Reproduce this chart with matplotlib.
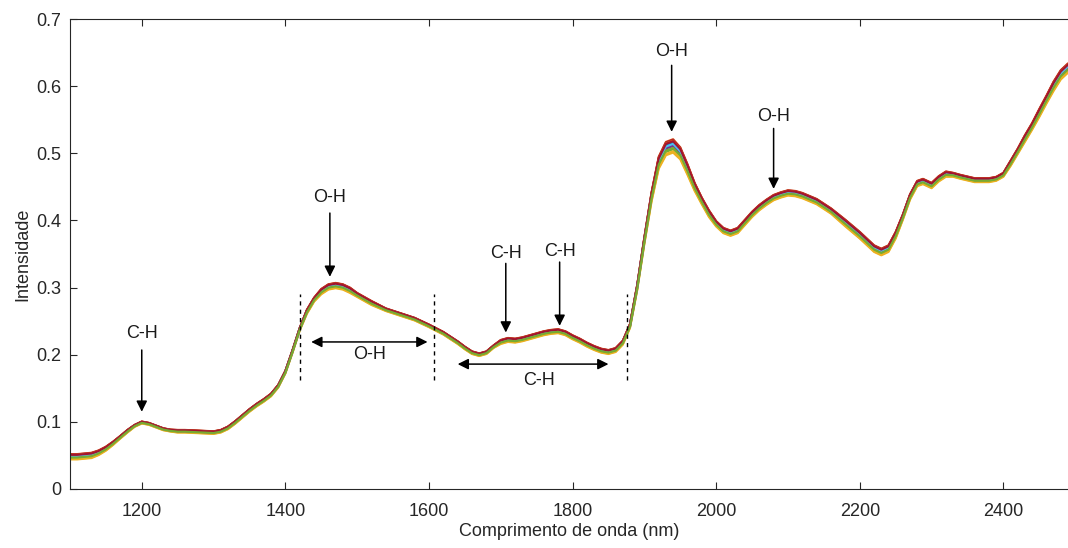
import numpy as np
import matplotlib
matplotlib.use("Agg")
import matplotlib.pyplot as plt

plt.rcParams['font.family'] = ['Liberation Sans', 'DejaVu Sans']

wavelength = [1100,1110,1120,1130,1140,1150,1160,1170,1180,1190,1200,1210,1220,1230,1240,1250,1260,1280,1300,1310,
              1320,1330,1340,1350,1360,1370,1380,1390,1400,1410,1420,1430,1440,1450,1460,1470,1480,1490,1500,1520,
              1540,1560,1580,1600,1620,1640,1650,1660,1670,1680,1690,1700,1710,1720,1730,1740,1750,1760,1770,1780,
              1790,1800,1810,1820,1830,1840,1850,1860,1870,1880,1890,1900,1910,1920,1930,1940,1950,1960,1970,1980,
              1990,2000,2010,2020,2030,2040,2050,2060,2070,2080,2090,2100,2110,2120,2140,2160,2180,2200,2210,2220,
              2230,2240,2250,2260,2270,2280,2288,2300,2310,2320,2330,2340,2360,2380,2390,2400,2410,2420,2430,2440,
              2450,2460,2470,2480,2490]

mean_intensity = [0.048,0.048,0.049,0.050,0.054,0.060,0.068,0.077,0.086,0.094,0.099,0.097,0.093,0.089,0.087,0.086,0.086,0.085,0.084,0.086,
                  0.091,0.099,0.108,0.117,0.125,0.132,0.140,0.153,0.174,0.205,0.238,0.264,0.282,0.294,0.301,0.303,0.301,0.296,0.289,0.277,
                  0.267,0.260,0.253,0.243,0.232,0.218,0.210,0.203,0.200,0.203,0.212,0.219,0.222,0.221,0.223,0.226,0.229,0.232,0.234,0.235,
                  0.232,0.226,0.221,0.215,0.210,0.206,0.204,0.207,0.218,0.243,0.300,0.370,0.435,0.486,0.507,0.511,0.500,0.476,0.450,0.429,
                  0.410,0.395,0.385,0.381,0.385,0.397,0.409,0.419,0.427,0.434,0.438,0.441,0.440,0.437,0.428,0.414,0.396,0.378,0.368,0.358,
                  0.353,0.358,0.378,0.405,0.435,0.455,0.458,0.452,0.462,0.469,0.468,0.465,0.460,0.460,0.462,0.468,0.485,0.503,0.522,0.540,
                  0.560,0.580,0.600,0.617,0.627]

spread = [0.004,0.004,0.004,0.004,0.0035,0.003,0.0025,0.002,0.002,0.0015,0.0015,0.0015,0.0015,0.0015,0.0015,0.002,0.002,0.002,0.002,0.002,
          0.002,0.002,0.002,0.002,0.002,0.002,0.002,0.002,0.002,0.002,0.002,0.003,0.003,0.004,0.004,0.004,0.004,0.004,0.003,0.003,
          0.002,0.002,0.002,0.002,0.002,0.002,0.002,0.002,0.002,0.002,0.002,0.003,0.003,0.003,0.003,0.003,0.003,0.003,0.003,0.003,
          0.003,0.003,0.003,0.003,0.003,0.003,0.003,0.003,0.003,0.003,0.004,0.005,0.007,0.009,0.010,0.010,0.009,0.008,0.006,0.005,
          0.005,0.004,0.004,0.004,0.004,0.004,0.004,0.004,0.004,0.004,0.004,0.004,0.004,0.004,0.004,0.004,0.005,0.005,0.005,0.005,
          0.005,0.005,0.005,0.004,0.004,0.004,0.004,0.004,0.004,0.004,0.003,0.003,0.003,0.003,0.003,0.003,0.004,0.004,0.005,0.005,
          0.006,0.006,0.007,0.007,0.007]

sample_positions = [0.6, 1.0, -1.0, 0.2, -0.5, -0.2, 0.9, 0.4, 0.8, -0.8, 0.0, 0.3, 0.7, -0.3]
sample_colors = ['#0072BD', '#D95319', '#EDB120', '#7E2F8E', '#77AC30', '#4DBEEE', '#A2142F',
                 '#0072BD', '#D95319', '#EDB120', '#7E2F8E', '#4DBEEE', '#A2142F', '#77AC30']

fig = plt.figure(figsize=(10.68, 5.48), dpi=100)
ax = fig.add_axes([0.0655, 0.1077, 0.9345, 0.8576])

wl = np.array(wavelength)
mu = np.array(mean_intensity)
sp = np.array(spread)
for p, c in zip(sample_positions, sample_colors):
    ax.plot(wl, mu + p * sp, color=c, lw=1.5, solid_capstyle='round', solid_joinstyle='round')

ax.set_xlim(1100, 2490)
ax.set_ylim(0, 0.7)
ax.set_xticks([1200, 1400, 1600, 1800, 2000, 2200, 2400])
ax.set_yticks([0, 0.1, 0.2, 0.3, 0.4, 0.5, 0.6, 0.7])
ax.set_yticklabels(['0', '0.1', '0.2', '0.3', '0.4', '0.5', '0.6', '0.7'])
ax.tick_params(direction='in', length=5, width=0.8, colors='#262626', labelsize=13, top=True, pad=6)
ax.tick_params(axis='x', pad=10)
for s in ['left', 'bottom', 'top']:
    ax.spines[s].set_color('#262626')
    ax.spines[s].set_linewidth(0.8)
ax.spines['right'].set_visible(False)
ax.set_xlabel('Comprimento de onda (nm)', fontsize=13, color='#262626', labelpad=2)
ax.set_ylabel('Intensidade', fontsize=13, color='#262626', labelpad=4)

arrow_kw = dict(arrowstyle='-|>', color='black', lw=1.1, mutation_scale=16, shrinkA=0, shrinkB=0)
dbl_kw = dict(arrowstyle='<|-|>', color='black', lw=1.1, mutation_scale=16, shrinkA=0, shrinkB=0)

single_labels = ['C-H', 'O-H', 'C-H', 'C-H', 'O-H', 'O-H']
single_x = [1200, 1462, 1707, 1782, 1938, 2080]
single_text_y = [0.232, 0.434, 0.350, 0.353, 0.652, 0.555]
single_tail_y = [0.207, 0.411, 0.336, 0.338, 0.631, 0.537]
single_head_y = [0.115, 0.316, 0.233, 0.243, 0.532, 0.447]
for lab, x, ty, ay, hy in zip(single_labels, single_x, single_text_y, single_tail_y, single_head_y):
    ax.text(x, ty, lab, ha='center', va='center', fontsize=13, color='#1a1a1a')
    ax.annotate('', xy=(x, hy), xytext=(x, ay), arrowprops=arrow_kw)

sep_x = [1420, 1607, 1876]
for x in sep_x:
    ax.plot([x, x], [0.162, 0.290], color='black', lw=1.0, ls=(0, (3, 3)))

ax.annotate('', xy=(1436, 0.219), xytext=(1598, 0.219), arrowprops=dbl_kw)
ax.text(1517, 0.200, 'O-H', ha='center', va='center', fontsize=13, color='#1a1a1a')
ax.annotate('', xy=(1640, 0.186), xytext=(1850, 0.186), arrowprops=dbl_kw)
ax.text(1753, 0.162, 'C-H', ha='center', va='center', fontsize=13, color='#1a1a1a')

fig.savefig('out.png', dpi=100)
